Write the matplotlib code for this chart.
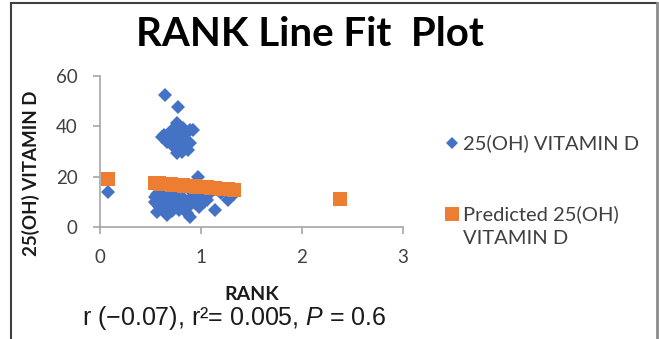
import matplotlib
matplotlib.use('Agg')
from matplotlib import pyplot as plt
from matplotlib.lines import Line2D
import numpy as np

# rank vs measured 25(OH) vitamin D
rank = [0.64, 0.77, 0.76, 0.89, 0.63, 0.71, 0.79, 0.89, 0.73, 0.81, 0.66, 0.61, 0.92, 0.87, 0.76,
        0.70, 0.75, 0.80, 0.84, 0.77, 0.72, 0.85, 0.82, 0.78, 0.68, 0.74, 0.83,
        0.54, 0.55, 0.56, 0.58, 0.60, 0.62, 0.64, 0.66, 0.68, 0.70, 0.72, 0.74, 0.76, 0.78,
        0.80, 0.82, 0.84, 0.86, 0.89, 0.90, 0.92, 0.95, 0.98, 1.00, 1.03, 1.06, 0.54, 0.66,
        0.56, 0.61, 0.69, 0.73, 0.81, 0.87, 0.94, 1.01, 0.58, 0.71, 0.79, 0.85,
        0.97, 1.14, 1.27, 0.08, 2.38, 0.60, 0.75, 0.90, 1.10, 1.20, 1.33]
vitd = [52.4, 47.8, 41.2, 38.5, 36.5, 38.5, 33.9, 33.4, 31.9, 29.9, 33.9, 35.8, 38.5, 30.6, 29.4,
        36.0, 37.0, 36.0, 35.0, 34.0, 34.5, 37.5, 39.5, 38.0, 35.0, 32.5, 32.0,
        12.0, 9.5, 6.0, 10.5, 7.5, 12.5, 9.0, 11.0, 7.0, 13.0, 10.0, 8.5, 12.0, 6.8,
        9.5, 11.5, 7.5, 5.5, 4.0, 9.0, 12.5, 10.5, 8.0, 12.0, 10.0, 10.7, 10.0, 4.8,
        13.0, 10.0, 9.0, 11.5, 8.0, 10.0, 9.5, 11.0, 8.5, 6.5, 10.5, 8.5,
        20.0, 6.8, 10.7, 14.0, 11.0, 15.0, 15.5, 14.5, 14.0, 13.5, 13.0]

# regression line read from the fitted values
fit_intercept = 19.3
fit_slope = -3.4

rank = np.array(rank)
predicted = fit_intercept + fit_slope * rank

blue = '#4472C4'
orange = '#ED7D31'
axis_grey = '#A6A6A6'
text_grey = '#404040'

plt.rcParams['font.family'] = ['Lato', 'DejaVu Sans']

fig = plt.figure(figsize=(6.59, 3.39), dpi=100)
ax = fig.add_axes([0.1517, 0.3304, 0.4598, 0.4454])

ax.plot(rank, vitd, 'D', color=blue, ms=6.8, mew=0)
ax.plot(rank, predicted, 's', color=orange, ms=10.5, mew=0)

ax.set_xlim(0, 3)
ax.set_ylim(0, 60)
ax.set_xticks([0, 1, 2, 3])
ax.set_yticks([0, 20, 40, 60])
for s in ['top', 'right']:
    ax.spines[s].set_visible(False)
for s in ['left', 'bottom']:
    ax.spines[s].set_color(axis_grey)
    ax.spines[s].set_linewidth(1.2)
ax.tick_params(axis='both', colors=axis_grey, labelcolor=text_grey, labelsize=13.5,
               length=5, width=1.2, pad=11)

fig.text(310 / 659, 1 - 35 / 339, 'RANK Line Fit  Plot', ha='center', va='center',
         fontsize=29, fontweight='bold', color='black')
fig.text(31 / 659, 1 - 173 / 339, '25(OH) VITAMIN D', rotation=90, ha='center', va='center',
         fontsize=13.5, fontweight='bold', color='#1a1a1a')
fig.text(252 / 659, 1 - 295 / 339, 'RANK', ha='center', va='center',
         fontsize=14, fontweight='bold', color='#1a1a1a')

plt.rcParams['mathtext.fontset'] = 'custom'
plt.rcParams['mathtext.rm'] = 'Liberation Sans'
plt.rcParams['mathtext.it'] = 'Liberation Sans:italic'
fig.text(82 / 659, 1 - 318 / 339, 'r (−0.07), r²= 0.005, $P$ = 0.6', ha='left', va='center',
         fontsize=18, family=['Liberation Sans', 'DejaVu Sans'], color='#1a1a1a')

# legend drawn by hand so the square sits beside the first line of its label
fig.add_artist(Line2D([452 / 659], [1 - 143 / 339], ls='', marker='D', color=blue, ms=6.5, mew=0))
fig.text(463 / 659, 1 - 143 / 339, '25(OH) VITAMIN D', ha='left', va='center',
         fontsize=14.5, color=text_grey)
fig.add_artist(Line2D([452 / 659], [1 - 214 / 339], ls='', marker='s', color=orange, ms=9.5, mew=0))
fig.text(463 / 659, 1 - 214 / 339, 'Predicted 25(OH)', ha='left', va='center',
         fontsize=14.5, color=text_grey)
fig.text(463 / 659, 1 - 238 / 339, 'VITAMIN D', ha='left', va='center',
         fontsize=14.5, color=text_grey)

# outer frame of the picture
fig.add_artist(Line2D([11 / 659, 11 / 659], [0, 1 - 3 / 339], color='#404040', lw=1.5))
fig.add_artist(Line2D([11 / 659, 657 / 659], [1 - 3 / 339, 1 - 3 / 339], color='#404040', lw=1.5))
fig.add_artist(Line2D([657 / 659, 657 / 659], [0, 1 - 3 / 339], color='#8c8c8c', lw=2))

fig.savefig('out.png', dpi=100)
plt.close()
